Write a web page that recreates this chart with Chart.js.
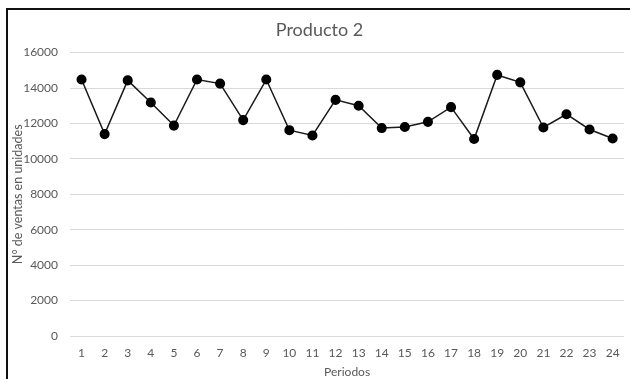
<!DOCTYPE html>
<html>
<head>
<meta charset="utf-8">
<script src="https://cdn.jsdelivr.net/npm/chart.js@4/dist/chart.umd.min.js"></script>
<style>
  html, body { margin: 0; padding: 0; background: #fff; overflow: hidden; }
  #wrap { position: relative; width: 630px; height: 379px; }
  #frame {
    position: absolute; left: 6px; top: 8px; width: 700px; height: 400px;
    border-left: 2px solid #111; border-top: 2px solid #111;
    pointer-events: none;
  }
  canvas { position: absolute; left: 0; top: 0; }
</style>
</head>
<body>
<div id="wrap">
  <canvas id="chart" width="630" height="379"></canvas>
  <div id="frame"></div>
</div>
<script>
// Chart data
const periods = ['1', '2', '3', '4', '5', '6', '7', '8', '9', '10', '11', '12',
  '13', '14', '15', '16', '17', '18', '19', '20', '21', '22', '23', '24'];
const sales = [14480, 11400, 14430, 13180, 11880, 14480, 14250, 12190, 14480, 11620, 11320, 13330,
  13000, 11740, 11800, 12090, 12920, 11120, 14740, 14320, 11770, 12520, 11660, 11150];
const yTicks = [0, 2000, 4000, 6000, 8000, 10000, 12000, 14000, 16000];

// Colors
const textGray = '#595959';
const gridGray = '#d9d9d9';
const fontFamily = 'Lato, "Open Sans", sans-serif';

const ctx = document.getElementById('chart').getContext('2d');

new Chart(ctx, {
  type: 'line',
  data: {
    labels: periods,
    datasets: [{
      label: 'Producto 2',
      data: sales,
      borderColor: '#1a1a1a',
      borderWidth: 1.5,
      pointBackgroundColor: '#000',
      pointBorderColor: '#000',
      pointRadius: 4.3,
      tension: 0
    }]
  },
  options: {
    responsive: false,
    animation: false,
    layout: { padding: { left: 10, right: 1, top: 19, bottom: 0 } },
    scales: {
      x: {
        offset: true,
        grid: { display: false },
        border: { display: false },
        ticks: { color: textGray, font: { family: fontFamily, size: 12 }, padding: 2, maxRotation: 0, autoSkip: false },
        title: { display: true, text: 'Periodos', color: textGray, font: { family: fontFamily, size: 12 }, padding: { top: 0, bottom: 0 } },
        afterFit: (scale) => { scale.height = 43; }
      },
      y: {
        min: 0,
        max: 16000,
        afterBuildTicks: (scale) => { scale.ticks = yTicks.map(v => ({ value: v })); },
        grid: { color: gridGray, lineWidth: 1, drawTicks: false },
        border: { display: false },
        ticks: {
          color: textGray,
          font: { family: fontFamily, size: 12 },
          padding: 12,
          callback: (v) => String(v)
        },
        title: { display: true, text: 'N° de ventas en unidades', color: textGray, font: { family: fontFamily, size: 12.5 }, padding: { top: 0, bottom: 4 } },
        afterFit: (scale) => { scale.width = 60; }
      }
    },
    plugins: {
      legend: { display: false },
      tooltip: { enabled: false },
      title: {
        display: true,
        text: 'Producto 2',
        color: textGray,
        font: { family: fontFamily, size: 18, weight: 'normal' },
        padding: { top: 0, bottom: 12 }
      }
    }
  }
});
</script>
</body>
</html>
